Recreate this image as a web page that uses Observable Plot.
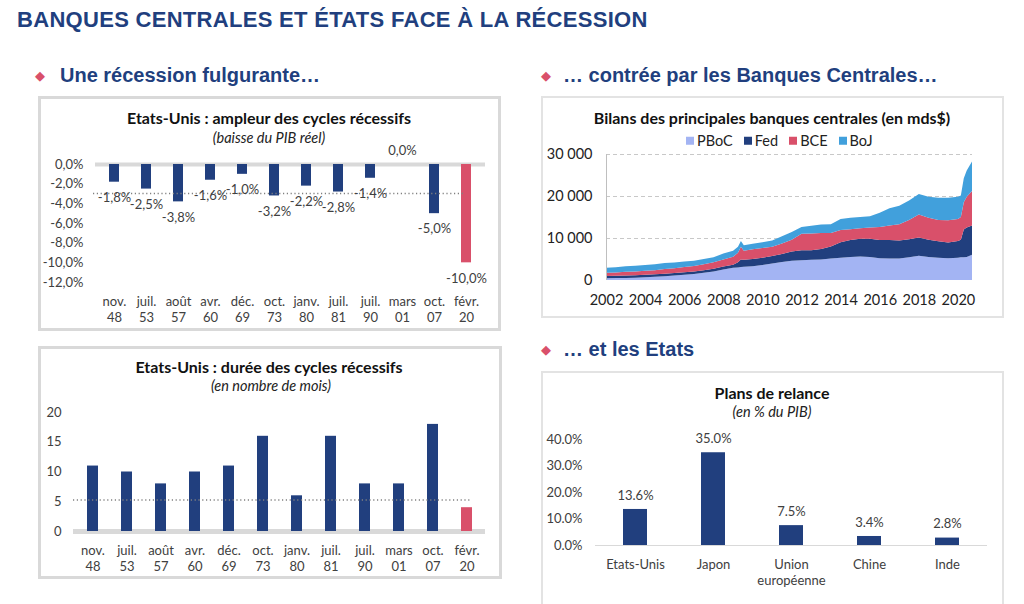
<!DOCTYPE html>
<html><head><meta charset="utf-8">
<script src="https://cdn.jsdelivr.net/npm/d3@7"></script>
<script src="https://cdn.jsdelivr.net/npm/@observablehq/plot@0.6"></script>
<style>
body{margin:0;width:1024px;height:604px;background:#fff;position:relative;overflow:hidden;font-family:Lato,sans-serif;}
.h{position:absolute;font-family:"Liberation Sans",Arial,sans-serif;font-weight:bold;color:#213f7e;white-space:nowrap;line-height:1;transform:translateY(-50%);}
.dia{position:absolute;color:#d9506a;font-size:13px;line-height:1;transform:translate(-50%,-50%);}
.box{position:absolute;box-sizing:border-box;}
.lb{border:3px solid #d9d9d9;}
.rb{border:2px solid #e3e3e3;}
.t{position:absolute;transform:translate(-50%,-50%);white-space:nowrap;line-height:1;font-weight:bold;font-size:16px;color:#111;}
.s{position:absolute;transform:translate(-50%,-50%);white-space:nowrap;line-height:1;font-style:italic;font-size:14.5px;color:#222;}
.pl{position:absolute;}
.leg{position:absolute;display:flex;align-items:center;font-size:14.5px;color:#222;line-height:1;transform:translateY(-50%);}
.leg span.sq{display:inline-block;width:8px;height:8px;margin-right:3px;}
.leg span.it{display:flex;align-items:center;margin-right:11px;}
</style></head>
<body>
<script>
// ---- Data ----
const recessions = ["nov.\n48","juil.\n53","août\n57","avr.\n60","déc.\n69","oct.\n73","janv.\n80","juil.\n81","juil.\n90","mars\n01","oct.\n07","févr.\n20"];
const gdpDrop = [-1.8,-2.5,-3.8,-1.6,-1.0,-3.2,-2.2,-2.8,-1.4,0.0,-5.0,-10.0];
const gdpDropAvg = -2.95;
const durationMonths = [11,10,8,10,11,16,6,16,8,8,18,4];
const durationAvg = 5.3;

const banks = ["PBoC","Fed","BCE","BoJ"];
const bankColors = ["#a3b4f3","#213f7e","#d9506a","#41a0dc"];
const years = [2002,2002.5,2003,2003.5,2004,2004.5,2005,2005.5,2006,2006.5,2007,2007.5,2008,2008.5,2008.75,2008.9,2009.05,2009.5,2010,2010.5,2011,2011.5,2012,2012.5,2013,2013.5,2014,2014.5,2015,2015.5,2016,2016.5,2017,2017.5,2018,2018.5,2019,2019.5,2020,2020.15,2020.3,2020.45,2020.72];
const pboc = [400,450,500,550,650,750,900,1050,1250,1450,1750,2050,2500,2900,3000,3100,3150,3300,3600,3900,4300,4600,4700,4800,4900,5100,5300,5500,5600,5500,5200,5100,5100,5400,5800,5500,5300,5200,5300,5400,5400,5500,6000];
const fed  = [550,550,600,600,600,600,600,600,600,600,600,650,700,750,1200,1800,1700,1700,1700,1800,1900,2200,2400,2300,2500,2900,3700,4000,4200,4300,4300,4400,4300,4300,4300,4100,3900,3700,4000,4200,6600,7000,7000];
const bce  = [750,800,850,900,950,1000,1100,1150,1250,1300,1400,1500,1700,1900,2300,3000,2100,2300,2300,2200,2500,2800,3900,4000,3800,3200,2900,2600,2500,2700,3100,3500,3900,4600,5500,5200,5100,5300,5200,5400,6500,7300,8200];
const boj  = [1200,1250,1300,1350,1400,1400,1450,1350,1300,1250,1250,1200,1400,1400,1400,1400,1300,1350,1400,1500,1700,1800,1600,1800,2000,2100,2600,2700,2700,2700,3400,4100,4400,4600,4900,5000,5300,5400,5300,5100,5700,6300,7000];
const yearTicks = [2002,2004,2006,2008,2010,2012,2014,2016,2018,2020];
const balanceTicks = [0,10000,20000,30000];

const countries = ["Etats-Unis","Japon","Union\neuropéenne","Chine","Inde"];
const stimulus = [13.6,35.0,7.5,3.4,2.8];

const NAVY = "#213f7e", RED = "#d9506a";

// ---- helpers ----
function add(html){ document.body.insertAdjacentHTML("beforeend", html); }
function place(svg, left, top){ const d=document.createElement("div"); d.className="pl"; d.style.left=left+"px"; d.style.top=top+"px"; d.appendChild(svg); document.body.appendChild(d); }
const frFmt = d => d.toFixed(1).replace(".", ",") + "%";

// ---- Headings ----
add(`<div class="h" style="left:17px;top:20px;font-size:22px;letter-spacing:0.3px">BANQUES CENTRALES ET ÉTATS FACE À LA RÉCESSION</div>`);
add(`<div class="dia" style="left:40px;top:75px">◆</div><div class="h" style="left:60px;top:75px;font-size:20px">Une récession fulgurante…</div>`);
add(`<div class="dia" style="left:546px;top:75px">◆</div><div class="h" style="left:563px;top:75px;font-size:20px">… contrée par les Banques Centrales…</div>`);
add(`<div class="dia" style="left:546px;top:349px">◆</div><div class="h" style="left:563px;top:349px;font-size:20px">… et les Etats</div>`);

// ---- Boxes ----
add(`<div class="box lb" style="left:38px;top:96px;width:463px;height:235px"></div>`);
add(`<div class="box lb" style="left:38px;top:346px;width:464px;height:233px"></div>`);
add(`<div class="box rb" style="left:541px;top:96px;width:463px;height:222px"></div>`);
add(`<div class="box rb" style="left:541px;top:371px;width:463px;height:240px"></div>`);

// ---- Panel 1 ----
add(`<div class="t" style="left:269px;top:118px">Etats-Unis : ampleur des cycles récessifs</div>`);
add(`<div class="s" style="left:269px;top:138px">(baisse du PIB réel)</div>`);
{
  const data = recessions.map((c,i)=>({c, v: gdpDrop[i], hl: i===recessions.length-1}));
  const p = Plot.plot({
    width: 462, height: 234, marginLeft: 47, marginRight: 4, marginTop: 68, marginBottom: 48,
    style: {fontFamily: "Lato, sans-serif", fontSize: "13px", color: "#404040", background: "transparent"},
    x: {domain: recessions, paddingInner: 0.676, paddingOuter: 0.676, label: null},
    y: {domain: [-12, 0], label: null},
    color: {domain: [false, true], range: [NAVY, RED]},
    marks: [
      Plot.ruleY([0], {stroke: "#d9d9d9", strokeWidth: 4, insetLeft: 10, insetRight: 11}),
      Plot.barY(data, {x: "c", y: "v", fill: "hl"}),
      Plot.ruleY([gdpDropAvg], {stroke: "#808080", strokeWidth: 1.5, strokeDasharray: "1.2,2.6", insetLeft: 8, insetRight: 31}),
      Plot.text(data.filter(d=>d.v<0), {x: "c", y: "v", text: d=>frFmt(d.v), dy: 15.5, fill: "#404040"}),
      Plot.text(data.filter(d=>d.v===0), {x: "c", y: "v", text: d=>frFmt(d.v), dy: -14, fill: "#404040"}),
      Plot.axisY({ticks: [0,-2,-4,-6,-8,-10,-12], tickFormat: frFmt, tickSize: 0, tickPadding: 2, fill: "#404040"}),
      Plot.axisX({tickSize: 0, tickPadding: 11, lineHeight: 1.3, fill: "#404040"})
    ]
  });
  place(p, 38, 96);
}

// ---- Panel 2 ----
add(`<div class="t" style="left:269px;top:367px">Etats-Unis : durée des cycles récessifs</div>`);
add(`<div class="s" style="left:271px;top:386px">(en nombre de mois)</div>`);
{
  const data = recessions.map((c,i)=>({c, v: durationMonths[i], hl: i===recessions.length-1}));
  const p = Plot.plot({
    width: 463, height: 231, marginLeft: 24, marginRight: 4, marginTop: 65, marginBottom: 47,
    style: {fontFamily: "Lato, sans-serif", fontSize: "13px", color: "#404040", background: "transparent"},
    x: {domain: recessions, paddingInner: 0.688, paddingOuter: 0.688, label: null},
    y: {domain: [0, 20], label: null},
    color: {domain: [false, true], range: [NAVY, RED]},
    marks: [
      Plot.ruleY([0], {stroke: "#d9d9d9", strokeWidth: 5, insetLeft: 11, insetRight: 12}),
      Plot.barY(data, {x: "c", y: "v", fill: "hl"}),
      Plot.ruleY([durationAvg], {stroke: "#808080", strokeWidth: 1.5, strokeDasharray: "1.2,2.6", insetLeft: 11, insetRight: 27}),
      Plot.axisY({ticks: [0,5,10,15,20], tickSize: 0, tickPadding: 1, fill: "#404040"}),
      Plot.axisX({tickSize: 0, tickPadding: 11, lineHeight: 1.3, fill: "#404040"})
    ]
  });
  place(p, 38, 347);
}

// ---- Panel 3 ----
add(`<div class="t" style="left:772px;top:118px">Bilans des principales banques centrales (en mds$)</div>`);
add(`<div class="leg" style="left:686px;top:141px">${banks.map((b,i)=>`<span class="it"><span class="sq" style="background:${bankColors[i]}"></span>${b}</span>`).join("")}</div>`);
{
  const series = [pboc, fed, bce, boj];
  const table = [];
  years.forEach((y,i)=>banks.forEach((b,k)=>table.push({year: y, bank: b, value: series[k][i]})));
  const p = Plot.plot({
    width: 462, height: 221, marginLeft: 65, marginRight: 31, marginTop: 58, marginBottom: 37,
    style: {fontFamily: "Lato, sans-serif", fontSize: "14.5px", color: "#222", background: "transparent"},
    x: {domain: [2002, 2020.72], label: null},
    y: {domain: [0, 30000], label: null},
    color: {domain: banks, range: bankColors},
    marks: [
      Plot.gridY([10000,20000,30000], {stroke: "#c8c8c8", strokeOpacity: 1, strokeDasharray: "4,3"}),
      Plot.areaY(table, {x: "year", y: "value", fill: "bank", z: "bank"}),
      Plot.ruleX([2002], {stroke: "#bfbfbf"}),
      Plot.axisY({ticks: balanceTicks, tickFormat: d => d3.format(",")(d).replace(/,/g, "\u00a0"), tickSize: 0, tickPadding: 14, fill: "#222"}),
      Plot.axisX({ticks: yearTicks, tickFormat: d => String(d), tickSize: 0, tickPadding: 14, fill: "#222"})
    ]
  });
  place(p, 541, 96);
}

// ---- Panel 4 ----
add(`<div class="t" style="left:772px;top:393px">Plans de relance</div>`);
add(`<div class="s" style="left:772px;top:412px">(en % du PIB)</div>`);
{
  const data = countries.map((c,i)=>({c, v: stimulus[i]}));
  const p = Plot.plot({
    width: 461, height: 233, marginLeft: 53, marginRight: 16, marginTop: 68, marginBottom: 59,
    style: {fontFamily: "Lato, sans-serif", fontSize: "13px", color: "#404040", background: "transparent"},
    x: {domain: countries, paddingInner: 0.694, paddingOuter: 0.344, label: null},
    y: {domain: [0, 40], label: null},
    marks: [
      Plot.ruleY([0], {stroke: "#d9d9d9", strokeWidth: 1.2}),
      Plot.barY(data, {x: "c", y: "v", fill: NAVY}),
      Plot.text(data, {x: "c", y: "v", text: d => d.v.toFixed(1) + "%", dy: -14, fill: "#404040"}),
      Plot.axisY({ticks: [0,10,20,30,40], tickFormat: d => d.toFixed(1) + "%", tickSize: 0, tickPadding: 13, fill: "#404040"}),
      Plot.axisX({tickSize: 0, tickPadding: 11, lineHeight: 1.3, fill: "#404040"})
    ]
  });
  place(p, 542, 371);
}
</script>
</body></html>
